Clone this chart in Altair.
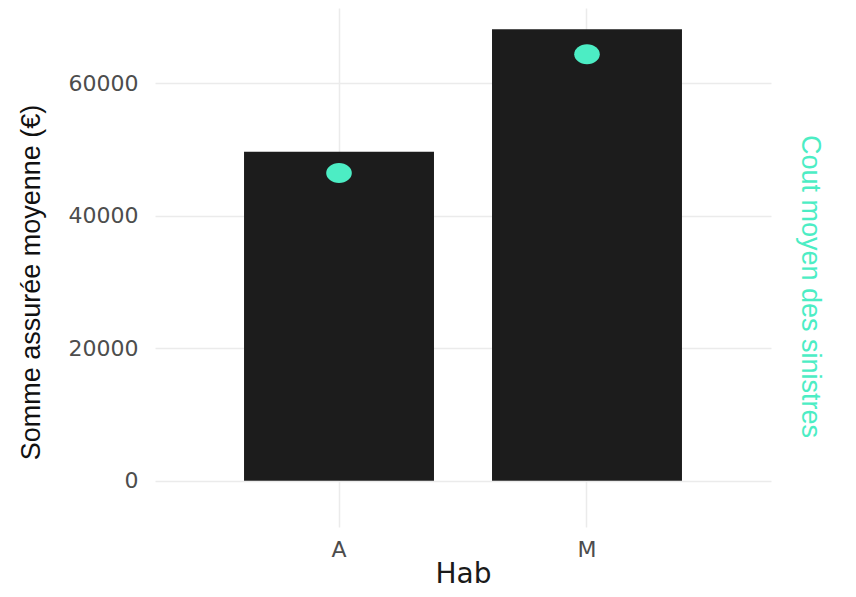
import altair as alt
import pandas as pd

# ---- data ----
hab = ["A", "M"]
somme_assuree = [49650, 68130]
cout_sinistres = [46450, 64370]
y_ticks = [0, 20000, 40000, 60000]
y_domain = [-6970, 71340]

df = pd.DataFrame({"Hab": hab, "somme": somme_assuree, "cout": cout_sinistres})

ACCENT = "#4CEDC4"
BAR = "#1C1C1C"
GRID = "#EBEBEB"
SANS = "Liberation Sans"

x_enc = alt.X(
    "Hab:N",
    sort=hab,
    scale=alt.Scale(paddingInner=0.234, paddingOuter=0.359),
    axis=alt.Axis(
        title="Hab", labelAngle=0, grid=True, bandPosition=0.5,
        ticks=False, tickSize=0, domain=False, labelPadding=12,
        labelFont="DejaVu Sans", labelFontSize=22, labelColor="#4D4D4D",
        titleFont="DejaVu Sans", titleFontSize=28, titleFontWeight="normal",
        titleColor="#1A1A1A", titleBaseline="alphabetic", titleY=55,
    ),
)

yscale = alt.Scale(domain=y_domain, nice=False, zero=False)

bars = alt.Chart(df).mark_bar(color=BAR).encode(
    x=x_enc,
    y=alt.Y(
        "somme:Q", scale=yscale,
        axis=alt.Axis(
            orient="left", title="Somme assurée moyenne (€)", values=y_ticks, format="d",
            grid=True, ticks=False, tickSize=0, domain=False, labelPadding=17,
            labelFont="DejaVu Sans", labelFontSize=22, labelColor="#4D4D4D",
            titleFont=SANS, titleFontSize=27, titleFontWeight="normal", titleColor="#111111",
            titleAngle=270, titleBaseline="middle", titleX=-124, titleY=274,
        ),
    ),
)

points = alt.Chart(df).mark_point(
    shape="M-1,0A1,0.78,0,1,0,1,0A1,0.78,0,1,0,-1,0Z",
    filled=True, size=655, color=ACCENT, opacity=1,
).encode(
    x=x_enc,
    y=alt.Y(
        "cout:Q", scale=yscale,
        axis=alt.Axis(
            orient="right", title="Cout moyen des sinistres", labels=False, ticks=False,
            tickSize=0, domain=False, grid=False,
            titleFont=SANS, titleFontSize=27, titleFontWeight="normal", titleColor=ACCENT,
            titleAngle=90, titleBaseline="middle", titleX=38, titleY=278,
        ),
    ),
)

chart = (
    alt.layer(bars, points)
    .resolve_scale(y="independent")
    .properties(
        width=616, height=519,
        autosize=alt.AutoSizeParams(type="none"),
        padding={"left": 147, "top": 0, "right": 77, "bottom": 62},
        background="white",
    )
    .configure_view(stroke=None)
    .configure_axis(gridColor=GRID, gridWidth=1.5)
)

chart.save("out.html", embed_options={"renderer": "svg", "actions": False})
